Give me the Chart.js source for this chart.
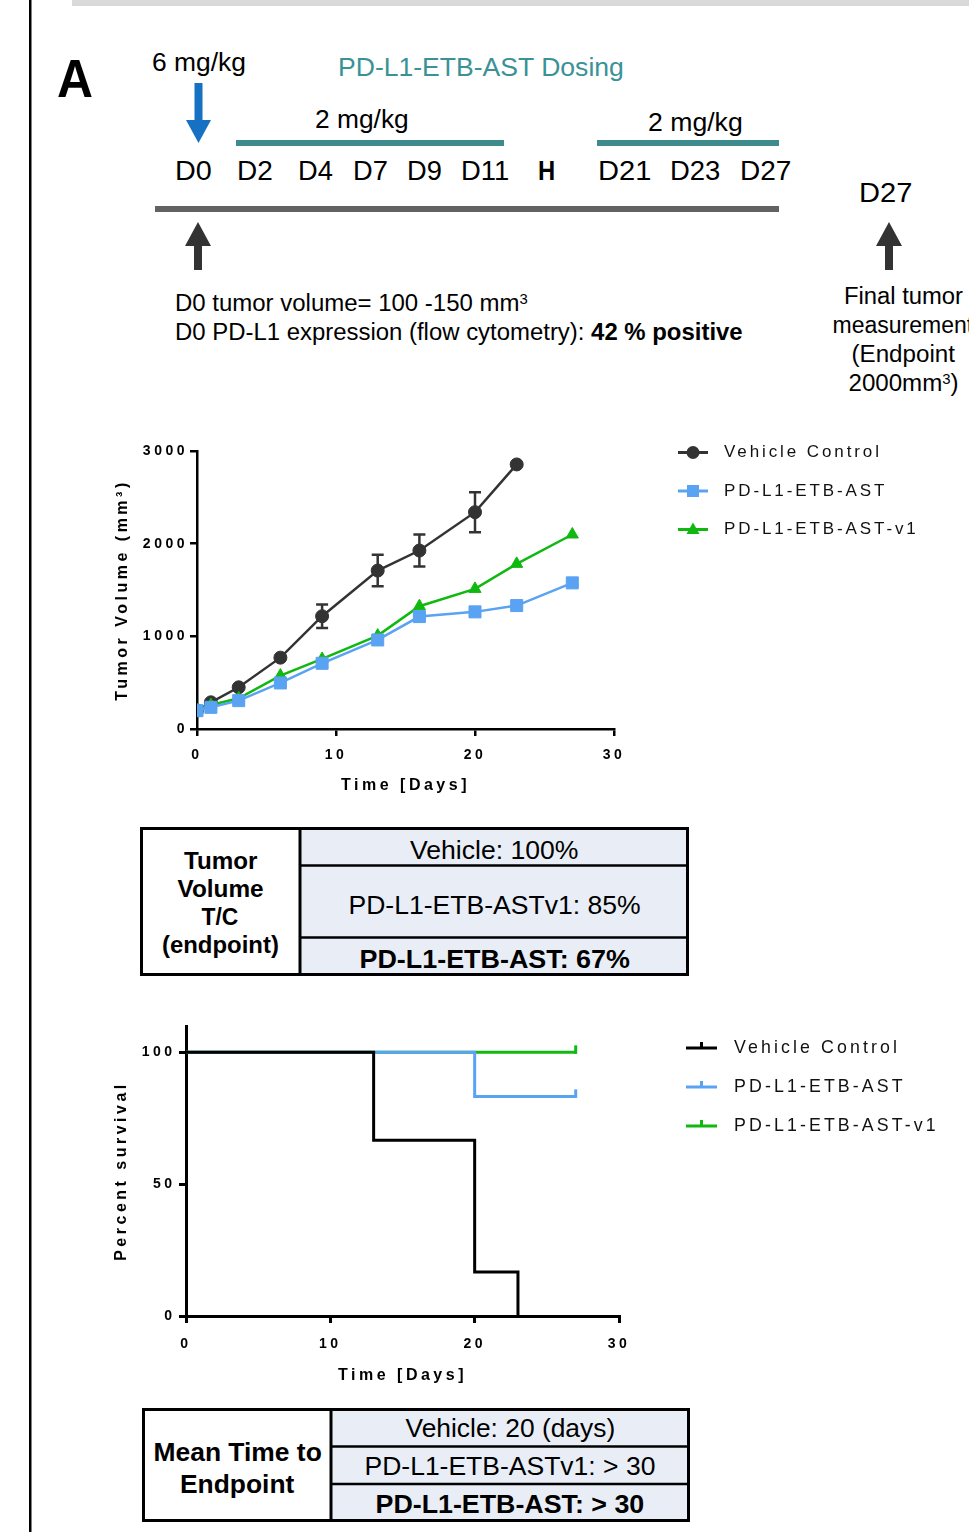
<!DOCTYPE html>
<html>
<head>
<meta charset="utf-8">
<script src="https://cdn.jsdelivr.net/npm/chart.js"></script>
<style>
  html, body { margin: 0; padding: 0; background: #fff; }
  body { position: relative; width: 969px; height: 1532px; overflow: hidden;
         font-family: "Liberation Sans", Arial, sans-serif; color: #000; }
  .tx { position: absolute; white-space: nowrap; }
  .tx sup { font-size: 0.62em; vertical-align: 0.5em; line-height: 0; }
  canvas { position: absolute; }
  svg { position: absolute; left: 0; top: 0; }
</style>
</head>
<body>
<svg width="969" height="1532">
  <!-- frame bits -->
  <rect x="72" y="0" width="897" height="6" fill="#d9d9d9"/>
  <rect x="29" y="0" width="2.5" height="1532" fill="#000"/>
  <!-- dosing schematic -->
  <rect x="194.5" y="83" width="8" height="37" fill="#1671c2"/>
  <polygon points="186,120 211,120 198.5,143" fill="#1671c2"/>
  <rect x="236" y="140" width="268" height="6" fill="#3d8b8e"/>
  <rect x="597" y="140" width="182" height="6" fill="#3d8b8e"/>
  <rect x="155" y="206" width="624" height="6" fill="#626262"/>
  <polygon points="185,246 211,246 198,222" fill="#333"/>
  <rect x="194" y="245" width="8" height="25" fill="#333"/>
  <polygon points="876,246 902,246 889,222" fill="#333"/>
  <rect x="885" y="245" width="8" height="25" fill="#333"/>
  <!-- table 1 -->
  <rect x="300" y="828" width="389" height="148" fill="#e9eef6"/>
  <line x1="300" y1="828" x2="300" y2="976" stroke="#000" stroke-width="3"/>
  <line x1="300" y1="865.5" x2="689" y2="865.5" stroke="#000" stroke-width="2.5"/>
  <line x1="300" y1="937.5" x2="689" y2="937.5" stroke="#000" stroke-width="2.5"/>
  <rect x="141.5" y="828.5" width="546" height="146" fill="none" stroke="#000" stroke-width="3"/>
  <!-- table 2 -->
  <rect x="331" y="1409" width="359" height="113" fill="#e9eef6"/>
  <line x1="331" y1="1409" x2="331" y2="1522" stroke="#000" stroke-width="3"/>
  <line x1="331" y1="1446.5" x2="690" y2="1446.5" stroke="#000" stroke-width="2.5"/>
  <line x1="331" y1="1484" x2="690" y2="1484" stroke="#000" stroke-width="2.5"/>
  <rect x="143.5" y="1409.5" width="545" height="111" fill="none" stroke="#000" stroke-width="3"/>
</svg>
<canvas id="volChart" width="860" height="370" style="left:100px;top:430px;width:860px;height:370px"></canvas>
<canvas id="survChart" width="860" height="390" style="left:100px;top:1005px;width:860px;height:390px"></canvas>
<script>
// ---- data ----
const seriesNames = ['Vehicle Control', 'PD-L1-ETB-AST', 'PD-L1-ETB-AST-v1'];
const seriesColors = ['#333333', '#5aa2f2', '#10b810'];
const survColors = ['#000000', '#5aa2f2', '#10b810'];

const days = [0, 1, 3, 6, 9, 13, 16, 20, 23, 27];
const vehicleVol = [200, 288, 450, 770, 1217, 1710, 1926, 2340, 2855];
const vehicleErr = [0, 0, 0, 0, 126, 170, 173, 216, 0];
const astVol = [198, 234, 306, 497, 709, 961, 1213, 1264, 1332, 1577];
const astV1Vol = [205, 259, 331, 576, 756, 1008, 1325, 1512, 1782, 2099];

const survVehicleDays = [0, 13, 20, 23];
const survVehicle = [100, 66.7, 16.7, 0];
const survAstDays = [0, 20, 27];
const survAst = [100, 83.3, 83.3];
const survV1Days = [0, 27];
const survV1 = [100, 100];

const dayTicks = [0, 10, 20, 30];
const volTicks = [0, 1000, 2000, 3000];
const survTicks = [0, 50, 100];

// ---- text annotations ----
function put(html, x, y, size, w, o = {}) {
  const d = document.createElement('div');
  d.className = 'tx';
  d.innerHTML = html;
  d.style.fontSize = size + 'px';
  d.style.lineHeight = size + 'px';
  d.style.top = (y - size / 2) + 'px';
  if (o.bold) d.style.fontWeight = 'bold';
  if (o.color) d.style.color = o.color;
  document.body.appendChild(d);
  const nat = d.offsetWidth;
  const s = w ? w / nat : 1;
  d.style.left = (o.center ? x - nat / 2 : x) + 'px';
  d.style.transformOrigin = o.center ? 'center center' : 'left center';
  d.style.transform = `scaleX(${s})`;
}

put('A', 57, 78, 54, 36, { bold: true });
put('6 mg/kg', 152, 62, 25, 94);
put('PD-L1-ETB-AST Dosing', 338, 67, 26, 286, { color: '#3a9296' });
put('2 mg/kg', 315, 120, 25.5, 94);
put('2 mg/kg', 648, 123, 25.5, 95);
[['D0', 175, 37], ['D2', 237, 36], ['D4', 298, 35], ['D7', 353, 35], ['D9', 407, 35],
 ['D11', 461, 48], ['D21', 598, 53], ['D23', 670, 50], ['D27', 740, 51]]
  .forEach(([t, x, w]) => put(t, x, 171, 28, w));
put('H', 538, 171, 28, 17, { bold: true });
put('D27', 859, 193, 28, 53);
put('D0 tumor volume= 100 -150 mm<sup>3</sup>', 175, 304, 23.5, 353);
put('D0 PD-L1 expression (flow cytometry): <b>42 % positive</b>', 175, 333, 23.5, 568);
put('Final tumor', 903, 296, 23, 119, { center: true });
put('measurement', 903, 325, 23, 0, { center: true });
put('(Endpoint', 903, 354, 23, 103, { center: true });
put('2000mm<sup>3</sup>)', 903, 383, 23, 110, { center: true });

// table 1
[['Tumor', 862, 73], ['Volume', 890, 86], ['T/C', 918, 37], ['(endpoint)', 946, 117]]
  .forEach(([t, y, w]) => put(t, 220, y, 23.5, w, { bold: true, center: true }));
put('Vehicle: 100%', 494, 850, 25, 168, { center: true });
put('PD-L1-ETB-ASTv1: 85%', 494, 905, 25, 292, { center: true });
put('PD-L1-ETB-AST: 67%', 494, 959, 25, 270, { center: true, bold: true });
// table 2
put('Mean Time to', 237, 1452, 25, 168, { center: true, bold: true });
put('Endpoint', 237, 1484, 25, 114, { center: true, bold: true });
put('Vehicle: 20 (days)', 510, 1429, 25.5, 210, { center: true });
put('PD-L1-ETB-ASTv1: &gt; 30', 510, 1467, 25.5, 291, { center: true });
put('PD-L1-ETB-AST: &gt; 30', 510, 1505, 25.5, 269, { center: true, bold: true });

// ---- chart helpers ----
Chart.defaults.font.family = '"Liberation Sans", Arial, sans-serif';
Chart.defaults.color = '#000';

const spacing = { id: 'spacing', beforeDraw(chart) { chart.ctx.letterSpacing = '3.5px'; } };

function drawMarker(ctx, style, x, y) {
  ctx.beginPath();
  if (style === 'rect') ctx.rect(x - 6, y - 6, 12, 12);
  else if (style === 'triangle') { ctx.moveTo(x, y - 7); ctx.lineTo(x + 6.5, y + 4.5); ctx.lineTo(x - 6.5, y + 4.5); ctx.closePath(); }
  else ctx.arc(x, y, 6.5, 0, Math.PI * 2);
  ctx.fill();
}

const sideLegend = {
  id: 'sideLegend',
  afterDraw(chart, args, opts) {
    const ctx = chart.ctx;
    ctx.save();
    ctx.letterSpacing = opts.spacing + 'px';
    ctx.font = opts.size + 'px "Liberation Sans", Arial, sans-serif';
    ctx.textBaseline = 'middle';
    chart.data.datasets.forEach((ds, i) => {
      const y = opts.top + i * opts.gap;
      const cx = opts.x + opts.len / 2;
      ctx.strokeStyle = ds.borderColor;
      ctx.fillStyle = ds.borderColor;
      ctx.lineWidth = 3;
      ctx.beginPath(); ctx.moveTo(opts.x, y); ctx.lineTo(opts.x + opts.len, y); ctx.stroke();
      if (opts.tick) { ctx.beginPath(); ctx.moveTo(cx, y); ctx.lineTo(cx, y - 6); ctx.stroke(); }
      else drawMarker(ctx, ds.pointStyle, cx, y);
      ctx.fillStyle = '#111';
      ctx.fillText(ds.label, opts.textX, y);
    });
    ctx.restore();
  }
};

const errorBars = {
  id: 'errorBars',
  afterDatasetsDraw(chart) {
    const ctx = chart.ctx, yScale = chart.scales.y;
    chart.data.datasets.forEach((ds, i) => {
      if (!ds.errors) return;
      const meta = chart.getDatasetMeta(i);
      ctx.save();
      ctx.strokeStyle = ds.borderColor;
      ctx.lineWidth = 2.5;
      meta.data.forEach((pt, j) => {
        const e = ds.errors[j];
        if (!e) return;
        const v = ds.data[j].y;
        const top = yScale.getPixelForValue(v + e), bot = yScale.getPixelForValue(v - e);
        ctx.beginPath();
        ctx.moveTo(pt.x, top); ctx.lineTo(pt.x, bot);
        ctx.moveTo(pt.x - 6, top); ctx.lineTo(pt.x + 6, top);
        ctx.moveTo(pt.x - 6, bot); ctx.lineTo(pt.x + 6, bot);
        ctx.stroke();
      });
      ctx.restore();
    });
  }
};

const censorTicks = {
  id: 'censorTicks',
  afterDatasetsDraw(chart) {
    const { ctx, scales: { x, y } } = chart;
    chart.data.datasets.forEach(ds => {
      if (!ds.censor) return;
      ctx.save();
      ctx.strokeStyle = ds.borderColor;
      ctx.lineWidth = 3;
      ds.censor.forEach(c => {
        const px = x.getPixelForValue(c.x), py = y.getPixelForValue(c.y);
        ctx.beginPath(); ctx.moveTo(px, py + 1.5); ctx.lineTo(px, py - 7); ctx.stroke();
      });
      ctx.restore();
    });
  }
};

const pts = (xs, ys) => ys.map((v, i) => ({ x: xs[i], y: v }));

function axis(min, max, ticks, title, opts) {
  return {
    type: 'linear', min, max,
    afterBuildTicks: s => { s.ticks = ticks.map(v => ({ value: v })); },
    afterFit: s => { if (opts.width) s.width = opts.width; if (opts.height) s.height = opts.height; },
    border: { color: '#000', width: opts.lw },
    grid: { drawOnChartArea: false, color: '#000', lineWidth: opts.lw, tickLength: 7 },
    ticks: { padding: opts.pad, font: { size: 14, weight: 'bold' }, color: '#000', callback: v => String(v) },
    title: { display: true, text: title, font: { size: 16, weight: 'bold' }, color: '#000',
             padding: opts.titlePad }
  };
}

// ---- tumor volume chart ----
const volStyles = ['circle', 'rect', 'triangle'];
const volData = [pts(days, vehicleVol), pts(days, astVol), pts(days, astV1Vol)];
const volOrder = [2, 0, 1];
const volRadius = [6.5, 8.5, 7];

new Chart(document.getElementById('volChart'), {
  type: 'line',
  data: {
    datasets: seriesNames.map((name, i) => ({
      label: name,
      data: volData[i],
      errors: i === 0 ? vehicleErr : undefined,
      borderColor: seriesColors[i],
      backgroundColor: seriesColors[i],
      pointBackgroundColor: seriesColors[i],
      pointBorderColor: seriesColors[i],
      pointStyle: volStyles[i],
      pointRadius: volRadius[i],
      pointBorderWidth: 1,
      borderWidth: 2.5,
      tension: 0,
      order: volOrder[i]
    }))
  },
  options: {
    responsive: false, animation: false, devicePixelRatio: 1,
    layout: { padding: { left: 0, top: 21, right: 346, bottom: 0 } },
    plugins: {
      legend: { display: false }, tooltip: { enabled: false },
      sideLegend: { x: 578, len: 30, top: 22.5, gap: 38.5, textX: 624, tick: false, size: 17, spacing: 2.9 }
    },
    scales: {
      x: axis(0, 30, dayTicks, 'Time [Days]', { height: 71, lw: 2.5, pad: 11, titlePad: { top: 0, bottom: 5 } }),
      y: axis(0, 3000, volTicks, 'Tumor Volume (mm³)', { width: 97, lw: 2.5, pad: 2, titlePad: { top: 13, bottom: 0 } })
    }
  },
  plugins: [spacing, errorBars, sideLegend]
});

// ---- survival chart ----
const survData = [pts(survVehicleDays, survVehicle), pts(survAstDays, survAst), pts(survV1Days, survV1)];
const survCensor = [null, { x: survAstDays.at(-1), y: survAst.at(-1) }, { x: survV1Days.at(-1), y: survV1.at(-1) }];

new Chart(document.getElementById('survChart'), {
  type: 'line',
  data: {
    datasets: seriesNames.map((name, i) => ({
      label: name,
      data: survData[i],
      censor: survCensor[i] ? [survCensor[i]] : undefined,
      borderColor: survColors[i],
      backgroundColor: survColors[i],
      stepped: true,
      pointRadius: 0,
      borderWidth: 3,
      order: i
    }))
  },
  options: {
    responsive: false, animation: false, devicePixelRatio: 1,
    layout: { padding: { left: 0, top: 21, right: 341, bottom: 0 } },
    plugins: {
      legend: { display: false }, tooltip: { enabled: false },
      sideLegend: { x: 586, len: 31, top: 43, gap: 39, textX: 634, tick: true, size: 17.8, spacing: 3.1 }
    },
    scales: {
      x: axis(0, 30, dayTicks, 'Time [Days]', { height: 79, lw: 3, pad: 13, titlePad: { top: 0, bottom: 10 } }),
      y: axis(0, 110, survTicks, 'Percent survival', { width: 86, lw: 3, pad: 3.5, titlePad: { top: 12, bottom: 0 } })
    }
  },
  plugins: [spacing, censorTicks, sideLegend]
});
</script>
</body>
</html>
